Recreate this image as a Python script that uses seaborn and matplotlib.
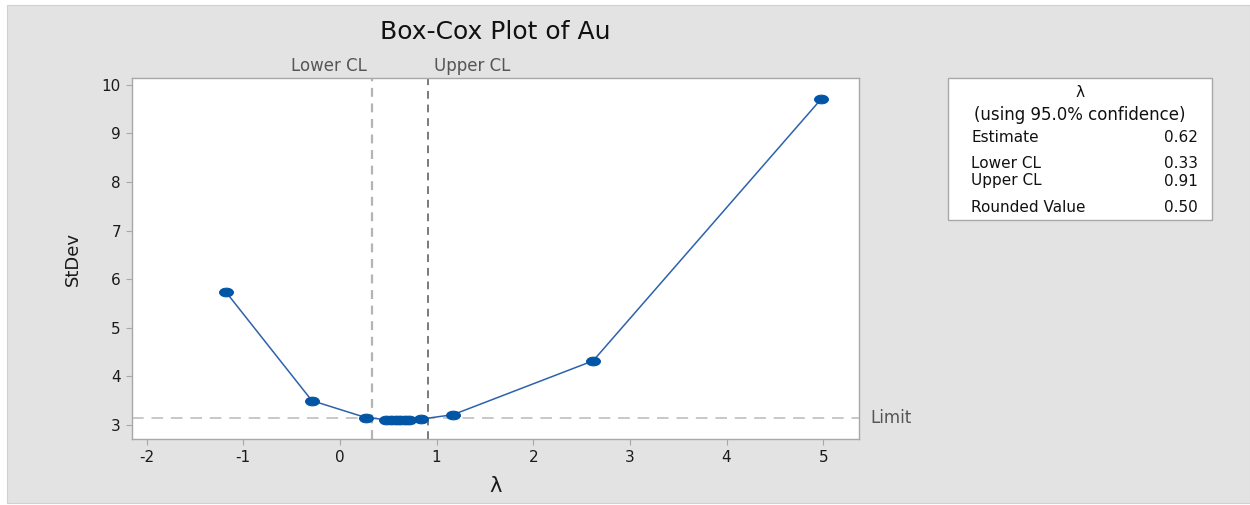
import matplotlib
matplotlib.use("Agg")
import matplotlib.pyplot as plt
import pandas as pd
import seaborn as sns
from matplotlib.patches import Rectangle
from matplotlib.path import Path
from matplotlib.transforms import Affine2D

# values
lambdas = [-1.18, -0.29, 0.27, 0.48, 0.53, 0.58, 0.62, 0.67, 0.72, 0.84, 1.17, 2.62, 4.98]
stdevs = [5.74, 3.50, 3.15, 3.11, 3.11, 3.11, 3.11, 3.11, 3.11, 3.12, 3.21, 4.32, 9.71]
lower_cl = 0.33
upper_cl = 0.91
limit = 3.14
x_ticks = [-2, -1, 0, 1, 2, 3, 4, 5]
y_ticks = [3, 4, 5, 6, 7, 8, 9, 10]
table_labels = ["Estimate", "Lower CL", "Upper CL", "Rounded Value"]
table_values = ["0.62", "0.33", "0.91", "0.50"]

df = pd.DataFrame({"lambda": lambdas, "stdev": stdevs})

sns.set_theme(style="white")
plt.rcParams["font.family"] = ["DejaVu Sans"]
plt.rcParams["axes.unicode_minus"] = False

fig = plt.figure(figsize=(12.5, 5.05), dpi=100)
fig.patch.set_facecolor("white")
bg = Rectangle((7 / 1250, 0.004), 1 - 7 / 1250, 1 - 5 / 505 - 0.004,
               transform=fig.transFigure, facecolor="#e3e3e3",
               edgecolor="#d0d0d0", linewidth=0.8, zorder=-10)
fig.patches.append(bg)

ax = fig.add_axes([132 / 1250, 1 - 439 / 505, (859 - 132) / 1250, (439 - 78) / 505])
ax.set_facecolor("white")

# the source image is stretched sideways, so the dots are wide ellipses
oval = Path.unit_circle().transformed(Affine2D().scale(1.6, 1.0))

blue = "#0055a5"
sns.lineplot(data=df, x="lambda", y="stdev", ax=ax, color="#2c62ad", linewidth=1.1,
             marker=oval, markersize=10, markeredgecolor=blue, markerfacecolor=blue,
             zorder=3)

ax.axvline(lower_cl, color="#b4b4b4", linestyle=(0, (4, 3)), linewidth=1.6, zorder=2)
ax.axvline(upper_cl, color="#7a7a7a", linestyle=(0, (4, 3)), linewidth=1.4, zorder=2)
ax.axhline(limit, color="#c8c8c8", linestyle=(0, (6, 4)), linewidth=1.4, zorder=1)

ax.set_xlim(-2.15, 5.37)
ax.set_ylim(2.71, 10.14)
ax.set_xticks(x_ticks)
ax.set_yticks(y_ticks)
ax.tick_params(axis="both", which="major", direction="out", length=4, width=0.8,
               color="#a8a8a8", labelsize=11, labelcolor="#1a1a1a", pad=4,
               bottom=True, left=True)
for sp in ax.spines.values():
    sp.set_color("#a8a8a8")
    sp.set_linewidth(1.0)

ax.set_xlabel("λ", fontsize=15, color="#1a1a1a", labelpad=8)
ax.set_ylabel("StDev", fontsize=13, color="#1a1a1a", labelpad=14)

ax.text(lower_cl - 0.05, 1.008, "Lower CL", transform=ax.get_xaxis_transform(),
        ha="right", va="bottom", fontsize=12, color="#555555")
ax.text(upper_cl + 0.06, 1.008, "Upper CL", transform=ax.get_xaxis_transform(),
        ha="left", va="bottom", fontsize=12, color="#555555")
ax.text(1.015, limit, "Limit", transform=ax.get_yaxis_transform(),
        ha="left", va="center", fontsize=12, color="#555555")

fig.text(495 / 1250, 1 - 32 / 505, "Box-Cox Plot of Au", ha="center", va="center",
         fontsize=18, color="#111111")

# summary box on the right
fig.patches.append(Rectangle((948 / 1250, 1 - 220 / 505), (1212 - 948) / 1250, (220 - 78) / 505,
                             transform=fig.transFigure, facecolor="white",
                             edgecolor="#a8a8a8", linewidth=1.0, zorder=1))
fig.text(1080 / 1250, 1 - 93 / 505, "λ", ha="center", va="center", fontsize=11, color="#111111")
fig.text(1080 / 1250, 1 - 115 / 505, "(using 95.0% confidence)", ha="center", va="center",
         fontsize=12, color="#111111")
row_y = [137, 163, 181, 208]
for lab, val, yy in zip(table_labels, table_values, row_y):
    fig.text(971 / 1250, 1 - yy / 505, lab, ha="left", va="center", fontsize=11, color="#111111")
    fig.text(1198 / 1250, 1 - yy / 505, val, ha="right", va="center", fontsize=11, color="#111111")

fig.savefig("out.png", dpi=100)
plt.close(fig)
